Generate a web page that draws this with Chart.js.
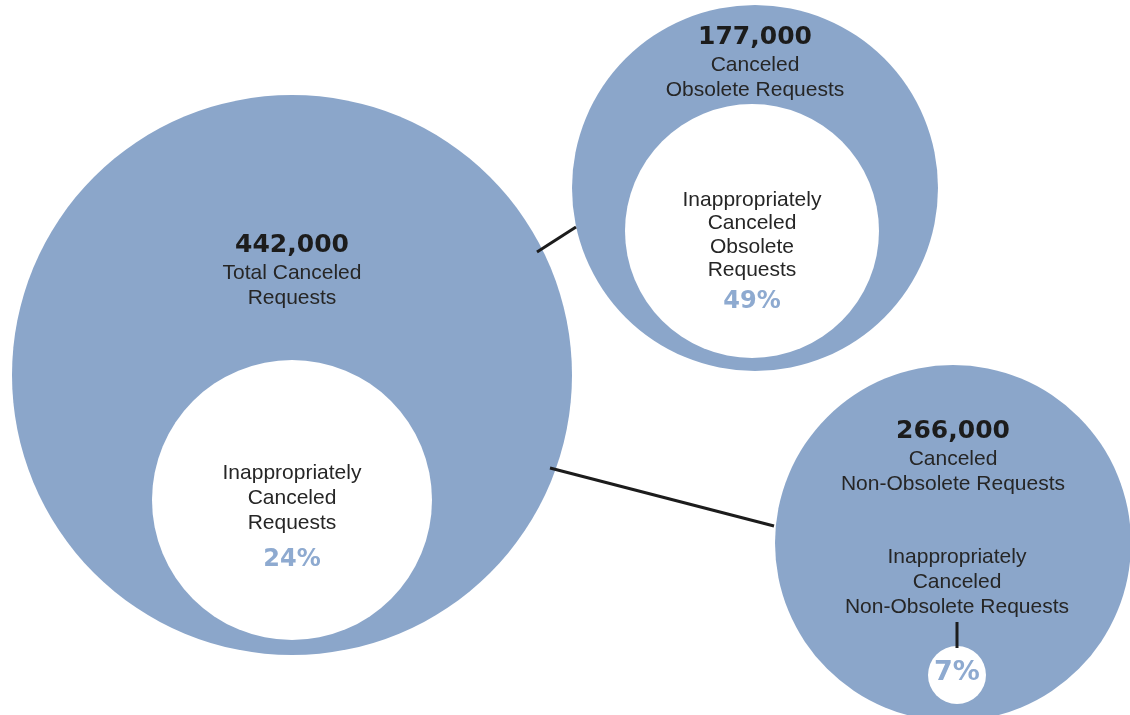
<!DOCTYPE html>
<html>
<head>
<meta charset="utf-8">
<script src="https://cdn.jsdelivr.net/npm/chart.js@4/dist/chart.umd.min.js"></script>
<style>
    html, body { margin: 0; padding: 0; background: #fff; }
    #wrap { width: 1130px; height: 715px; }
</style>
</head>
<body>
<div id="wrap"><canvas id="canceledBubbles" width="1130" height="715"></canvas></div>
<script>
"use strict";

// --- values ---
const groupNames = [
    ['Total Canceled', 'Requests'],
    ['Canceled', 'Obsolete Requests'],
    ['Canceled', 'Non-Obsolete Requests']
];
const canceledCounts = [442000, 177000, 266000];
const innerNames = [
    ['Inappropriately', 'Canceled', 'Requests'],
    ['Inappropriately', 'Canceled', 'Obsolete', 'Requests'],
    ['Inappropriately', 'Canceled', 'Non-Obsolete Requests']
];
const inappropriateShares = [24, 49, 7];

// --- layout, in picture units (the diagram is not drawn to scale) ---
const outerX = [292, 755, 953];
const outerY = [375, 188, 543];
const outerR = [280, 183, 178];
const innerX = [292, 752, 957];
const innerY = [500, 231, 675];
const innerR = [140, 127, 29];
const headY = [245, 37, 431];
const innerTextY = [473, 200, 557];
const shareY = [560, 302, 673];
const shareFont = [24, 24, 27];
const connectors = [
    [[537, 252], [576, 227]],
    [[550, 468], [774, 526]],
    [[957, 622], [957, 648]]
];

const BLUE = '#8ba6ca';
const SHARE_BLUE = '#8eaad0';
const INK = '#1c1c1c';

// radius is given in picture units, turn it into pixels with the x scale
function scaledRadius(context) {
    const item = context.raw;
    const xScale = context.chart.scales.x;
    if (!item || !xScale) return 0;
    const px = Math.abs(xScale.getPixelForValue(item.x + item.size) - xScale.getPixelForValue(item.x));
    return isFinite(px) ? px : item.size;
}

const circleLabels = {
    id: 'circleLabels',
    afterDatasetsDraw(chart) {
        const { ctx, scales: { x, y } } = chart;
        ctx.save();
        ctx.textAlign = 'center';
        ctx.textBaseline = 'middle';

        canceledCounts.forEach((count, i) => {
            const cx = x.getPixelForValue(outerX[i]);
            // big number
            ctx.fillStyle = INK;
            ctx.font = 'bold 25px "DejaVu Sans"';
            ctx.fillText(count.toLocaleString('en-US'), cx, y.getPixelForValue(headY[i]));
            // group label
            ctx.fillStyle = '#262626';
            ctx.font = '21px "Liberation Sans", Arial';
            groupNames[i].forEach((line, k) => {
                ctx.fillText(line, cx, y.getPixelForValue(headY[i] + 28 + k * 25));
            });
            // inner label
            const ix = x.getPixelForValue(innerX[i]);
            const step = i === 1 ? 23.5 : 25;
            innerNames[i].forEach((line, k) => {
                ctx.fillText(line, ix, y.getPixelForValue(innerTextY[i] + k * step));
            });
            // share
            ctx.fillStyle = SHARE_BLUE;
            ctx.font = 'bold ' + shareFont[i] + 'px "DejaVu Sans"';
            ctx.fillText(inappropriateShares[i] + '%', ix, y.getPixelForValue(shareY[i]));
        });
        ctx.restore();
    }
};

const ctx = document.getElementById('canceledBubbles').getContext('2d');

const connectorSets = connectors.map(pair => ({
    type: 'line',
    data: pair.map(p => ({ x: p[0], y: p[1] })),
    borderColor: INK,
    borderWidth: 3,
    pointRadius: 0,
    clip: false,
    order: 0
}));

new Chart(ctx, {
    type: 'bubble',
    data: {
        datasets: [
            {
                label: 'Inappropriately canceled',
                data: innerX.map((v, i) => ({ x: v, y: innerY[i], size: innerR[i] })),
                backgroundColor: '#ffffff',
                borderWidth: 0,
                radius: scaledRadius,
                clip: false,
                order: 1
            },
            {
                label: 'Canceled requests',
                data: outerX.map((v, i) => ({ x: v, y: outerY[i], size: outerR[i] })),
                backgroundColor: BLUE,
                borderWidth: 0,
                radius: scaledRadius,
                clip: false,
                order: 2
            },
            ...connectorSets
        ]
    },
    options: {
        responsive: false,
        animation: false,
        events: [],
        // keep the plot area on the whole canvas, the bubbles may run off the edge
        layout: { padding: 0, autoPadding: false },
        plugins: {
            legend: { display: false },
            tooltip: { enabled: false }
        },
        scales: {
            x: { type: 'linear', min: 0, max: 1130, display: false },
            y: { type: 'linear', min: 0, max: 715, reverse: true, display: false }
        }
    },
    plugins: [circleLabels]
});
</script>
</body>
</html>
